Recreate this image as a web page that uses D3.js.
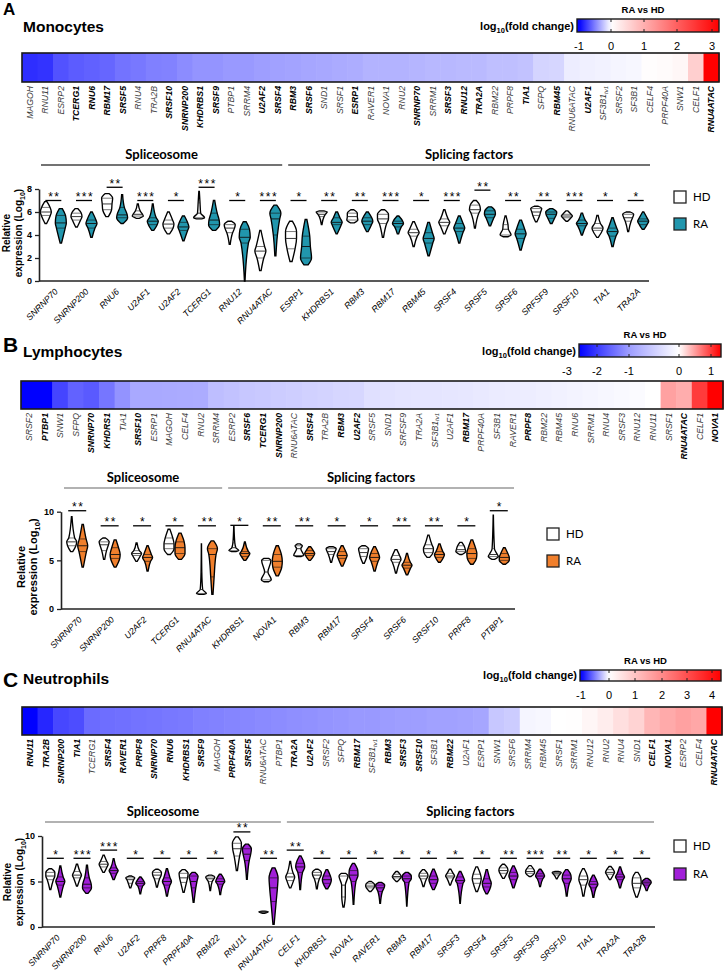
<!DOCTYPE html>
<html><head><meta charset="utf-8">
<script src="https://cdn.jsdelivr.net/npm/d3@7"></script>
<style>body{margin:0;background:#fff} svg{display:block}</style>
</head><body><svg id="c" width="728" height="972"></svg>
<script>
// ---------------- DATA ----------------
const heatGenesA = ["MAGOH","RNU11","ESRP2","TCERG1","RNU6","RBM17","SRSF5","RNU4","TRA2B","SRSF10","SNRNP200","KHDRBS1","SRSF9","PTBP1","SRRM4","U2AF2","SRSF4","RBM3","SRSF6","SND1","SRSF1","ESRP1","RAVER1","NOVA1","RNU2","SNRNP70","SRRM1","SRSF3","RNU12","TRA2A","RBM22","PRPF8","TIA1","SFPQ","RBM45","RNU6ATAC","U2AF1","SF3B1_tv1","SRSF2","SF3B1","CELF4","PRPF40A","SNW1","CELF1","RNU4ATAC"];
const heatValsA = [-0.82,-0.8,-0.68,-0.64,-0.62,-0.6,-0.55,-0.53,-0.5,-0.49,-0.45,-0.42,-0.42,-0.4,-0.4,-0.38,-0.37,-0.36,-0.35,-0.34,-0.33,-0.32,-0.3,-0.3,-0.3,-0.29,-0.28,-0.28,-0.27,-0.27,-0.25,-0.25,-0.24,-0.17,-0.16,-0.07,-0.06,-0.05,-0.04,-0.03,0.02,0.05,0.1,0.6,3.2];
const heatBoldA = ["TCERG1","RNU6","RBM17","SRSF5","SRSF10","SNRNP200","KHDRBS1","SRSF9","U2AF2","SRSF4","RBM3","SRSF6","ESRP1","SNRNP70","SRSF3","RNU12","TRA2A","TIA1","RBM45","U2AF1","RNU4ATAC"];
const cbTicksA = [-1,0,1,2,3];

const heatGenesB = ["SRSF2","PTBP1","SNW1","SFPQ","SNRNP70","KHDRS1","TIA1","SRSF10","ESRP1","MAGOH","CELF4","RNU2","SRRM4","ESRP2","SRSF6","TCERG1","SNRNP200","RNU6ATAC","SRSF4","TRA2B","RBM3","U2AF2","SRSF5","SND1","SRFSF9","TRA2A","SF3B1_tv1","U2AF1","RBM17","PRPF40A","SF3B1","RAVER1","PRPF8","RBM22","RBM45","RNU6","SRRM1","RNU4","SRSF3","RNU12","RNU11","SRSF1","RNU4ATAC","CELF1","NOVA1"];
const heatValsB = [-2.6,-2.6,-1.9,-1.6,-1.68,-1.4,-1.1,-0.88,-0.88,-0.87,-0.86,-0.85,-0.66,-0.62,-0.57,-0.55,-0.52,-0.5,-0.47,-0.45,-0.42,-0.41,-0.32,-0.3,-0.28,-0.27,-0.26,-0.25,-0.24,-0.22,-0.2,-0.19,-0.18,-0.16,-0.14,-0.12,-0.1,-0.08,-0.06,-0.04,0.0,0.48,0.42,1.0,1.3];
const heatBoldB = ["PTBP1","SNRNP70","KHDRS1","SRSF10","SRSF6","TCERG1","SNRNP200","SRSF4","RBM3","U2AF2","RBM17","PRPF8","RNU4ATAC","NOVA1"];
const cbTicksB = [-3,-2,-1,0,1];

const heatGenesC = ["RNU11","TRA2B","SNRNP200","TIA1","TCERG1","SRSF4","RAVER1","PRPF8","SNRNP70","RNU6","KHDRBS1","SRSF9","MAGOH","PRPF40A","SRSF5","RNU6ATAC","PTBP1","TRA2A","U2AF2","SRSF2","SFPQ","RBM17","SF3B1_tv1","RBM3","SRSF3","SRSF10","SF3B1","RBM22","U2AF1","ESRP1","SNW1","SRSF6","SRRM4","RBM45","SRSF1","SRRM1","RNU12","RNU2","RNU4","SND1","CELF1","NOVA1","ESRP2","CELF4","RNU4ATAC"];
const heatValsC = [-1.0,-0.85,-0.72,-0.7,-0.58,-0.57,-0.56,-0.55,-0.54,-0.53,-0.52,-0.5,-0.49,-0.48,-0.47,-0.46,-0.45,-0.44,-0.43,-0.42,-0.41,-0.4,-0.4,-0.39,-0.38,-0.38,-0.37,-0.37,-0.36,-0.35,-0.22,-0.2,-0.04,-0.03,0.0,0.02,0.15,0.3,0.55,0.75,1.25,1.45,1.6,1.5,4.35];
const heatBoldC = ["RNU11","TRA2B","SNRNP200","TIA1","SRSF4","RAVER1","PRPF8","SNRNP70","RNU6","KHDRBS1","SRSF9","PRPF40A","SRSF5","TRA2A","U2AF2","RBM17","RBM3","SRSF3","SRSF10","RBM22","CELF1","NOVA1","RNU4ATAC"];
const cbTicksC = [-1,0,1,2,3,4];

// violin summaries: [min, q1, median, q3, max] (log10 relative expression)
const genesA = ["SNRNP70","SNRNP200","RNU6","U2AF1","U2AF2","TCERG1","RNU12","RNU4ATAC","ESRP1","KHDRBS1","RBM3","RBM17","RBM45","SRSF4","SRSF5","SRSF6","SRFSF9","SRSF10","TIA1","TRA2A"];
const hdA = [[5.0,5.7,6.0,6.4,6.9],[4.7,5.3,5.6,5.9,6.3],[5.6,6.2,6.7,7.2,7.6],[5.45,5.65,5.8,6.1,6.7],[4.1,4.6,4.95,5.3,6.0],[5.4,5.5,5.9,6.8,7.8],[3.2,4.2,4.6,4.9,5.2],[0.9,2.0,2.6,3.0,4.4],[1.7,2.8,3.7,4.3,5.2],[4.9,5.6,5.8,6.0,6.1],[5.05,5.3,5.6,5.9,6.2],[3.8,5.0,5.4,5.8,6.2],[3.0,3.9,4.2,4.5,5.15],[4.1,4.8,5.1,5.4,6.2],[4.6,5.9,6.2,6.6,7.0],[3.85,4.0,4.5,4.9,5.65],[5.15,5.7,6.0,6.3,6.5],[5.2,5.5,5.65,5.8,6.1],[3.8,4.4,4.6,5.0,5.7],[4.3,5.2,5.5,5.8,6.0]];
const raA = [[3.3,4.6,5.05,5.7,6.3],[3.8,4.6,5.0,5.3,6.0],[5.0,5.5,5.75,6.4,7.5],[4.4,4.9,5.2,5.5,6.7],[3.5,4.4,4.7,5.1,5.65],[4.4,4.9,5.3,5.9,7.0],[0,3.3,3.8,4.5,5.15],[2.2,4.0,5.4,5.9,6.6],[1.4,2.0,3.0,3.9,5.35],[4.1,4.9,5.1,5.5,6.0],[4.3,4.9,5.2,5.5,6.0],[4.1,4.7,5.0,5.2,5.65],[2.2,3.3,3.7,4.2,5.1],[3.3,4.3,4.6,5.0,5.65],[4.8,5.5,5.8,6.1,6.45],[2.7,3.7,4.1,4.5,5.3],[5.0,5.45,5.8,6.0,6.3],[4.0,4.8,5.0,5.3,5.9],[3.0,3.9,4.3,4.6,5.5],[4.5,4.9,5.2,5.4,6.0]];
const starsA = ["**","***","**","***","*","***","*","***","*","**","**","***","*","***","**","**","**","***","*","*"];
const sigA = [7,7,8.15,7,7,8.15,7,7,7,7,7,7,7,7,7.9,7,7,7,7,7];
const ticksA = [0,2,4,6,8];

const genesB = ["SNRNP70","SNRNP200","U2AF2","TCERG1","RNU4ATAC","KHDRBS1","NOVA1","RBM3","RBM17","SRSF4","SRSF6","SRSF10","PRPF8","PTBP1"];
const hdB = [[5.9,6.5,6.9,7.3,9.5],[5.1,6.0,6.6,6.9,7.3],[4.9,5.5,5.7,6.0,6.8],[5.6,6.2,6.7,7.3,8.2],[1.5,1.6,2.0,3.8,6.7],[5.9,6.0,6.3,6.8,8.5],[2.8,3.0,3.8,5.0,5.2],[5.4,5.5,6.2,6.5,6.7],[4.8,5.6,5.9,6.2,6.4],[4.7,5.4,5.8,6.2,6.5],[3.7,4.8,5.1,5.5,6.1],[5.3,5.8,6.2,6.6,7.6],[5.6,5.9,6.1,6.5,6.85],[5.1,5.4,5.6,6.2,9.65]];
const raB = [[4.3,5.9,6.5,7.2,8.7],[4.3,5.2,5.6,6.3,7.1],[3.9,4.9,5.3,5.6,6.5],[5.1,5.7,6.3,6.9,7.8],[1.5,3.3,5.6,6.2,7.0],[5.0,5.4,5.7,5.9,6.9],[3.4,4.3,4.9,5.6,6.5],[5.0,5.5,5.7,6.0,6.4],[4.4,5.2,5.5,5.9,6.5],[3.9,4.9,5.3,5.7,6.4],[3.5,4.2,4.5,4.8,5.7],[4.8,5.3,5.6,5.9,6.7],[4.6,5.2,5.7,6.2,7.1],[4.6,5.0,5.3,5.7,6.3]];
const starsB = ["**","**","*","*","**","*","**","**","*","*","**","**","*","*"];
const sigB = [10.1,8.55,8.55,8.55,8.55,8.6,8.55,8.55,8.55,8.55,8.55,8.55,8.55,10.1];
const ticksB = [0,5,10];

const genesC = ["SNRNP70","SNRNP200","RNU6","U2AF2","PRPF8","PRPF40A","RBM22","RNU11","RNU4ATAC","CELF1","KHDRBS1","NOVA1","RAVER1","RBM3","RBM17","SRSF3","SRSF4","SRSF5","SRFSF9","SRSF10","TIA1","TRA2A","TRA2B"];
const hdC = [[4.1,5.2,5.6,6.0,6.4],[4.5,5.4,5.7,6.1,6.9],[6.0,6.6,6.9,7.2,7.9],[4.3,4.8,5.2,5.4,5.6],[4.4,5.3,5.7,6.0,6.35],[3.8,4.9,5.4,5.9,6.3],[4.0,5.0,5.3,5.5,5.7],[6.2,7.8,8.6,9.2,9.9],[1.5,1.6,1.65,1.7,1.75],[4.3,5.1,5.5,5.9,7.2],[4.2,5.3,5.7,6.0,6.35],[2.2,3.3,4.6,5.6,5.9],[3.9,4.3,4.5,4.75,5.0],[5.0,5.4,5.55,5.8,6.1],[4.45,5.3,5.6,5.9,6.3],[4.6,5.4,5.6,5.9,6.35],[3.9,4.8,5.3,5.8,6.6],[5.35,5.9,6.2,6.5,6.9],[5.55,5.9,6.1,6.4,6.75],[5.3,5.7,5.85,6.0,6.1],[3.4,4.6,5.2,5.6,6.4],[5.2,5.8,6.0,6.3,6.65],[3.3,4.3,4.8,5.4,6.0]];
const raC = [[3.3,4.6,5.0,5.5,6.7],[3.7,4.3,4.7,5.4,6.8],[5.2,5.9,6.2,6.5,7.5],[3.65,4.5,4.8,5.0,5.5],[3.4,4.6,5.0,5.4,6.4],[2.7,4.3,5.0,5.6,6.0],[3.55,4.7,5.0,5.3,5.8],[5.25,7.3,8.0,8.6,9.1],[0.3,2.8,4.3,5.4,6.5],[4.1,6.0,6.6,7.0,7.8],[4.2,4.8,5.2,5.6,6.3],[2.5,5.0,5.7,6.2,7.0],[2.6,3.9,4.3,4.6,4.9],[2.3,4.9,5.3,5.6,6.0],[4.1,4.8,5.2,5.6,6.35],[2.6,4.8,5.1,5.5,6.1],[3.65,4.4,4.8,5.3,6.3],[4.3,5.2,5.6,6.0,6.7],[4.45,5.3,5.6,5.85,6.35],[3.4,4.8,5.3,5.7,6.3],[3.25,4.3,4.7,5.0,5.7],[4.3,5.2,5.5,5.8,6.6],[4.0,4.6,4.85,5.05,5.35]];
const starsC = ["*","***","***","*","*","*","*","**","**","**","*","*","*","*","*","*","*","**","***","**","*","*","*"];
const sigC = [7.55,7.55,8.45,7.55,7.55,7.55,7.55,10.45,7.55,8.45,7.55,7.55,7.55,7.55,7.55,7.55,7.55,7.55,7.55,7.55,7.55,7.55,7.55];
const ticksC = [0,5,10];

const groupLabels = ["Spliceosome","Splicing factors"];
const nSpliceoA = 8, nSpliceoB = 5, nSpliceoC = 9;
const legendLabels = ["HD","RA"];

// ---------------- DRAWING ----------------
const FONT = '"Liberation Sans", Arial, sans-serif';
const CAL = 'Lato, "Open Sans", sans-serif';
const svg = d3.select('#c').attr('font-family', FONT);

function subLabel(sel, name) {
  const parts = name.split('_');
  sel.append('tspan').text(parts[0]);
  if (parts[1]) sel.append('tspan').attr('font-size', '0.68em').attr('dy', '0.3em').text(parts[1]);
}

function drawTitle(letter, title, ly, lsize, ty) {
  svg.append('text').attr('x', 3).attr('y', ly).attr('font-size', lsize).attr('font-weight', 'bold').text(letter);
  svg.append('text').attr('x', 23).attr('y', ty).attr('font-size', 15.5).attr('font-weight', 'bold').text(title);
}

function drawHeat(c) {
  const g = svg.append('g');
  const x = d3.scaleBand().domain(c.genes).range([c.x0, c.x1]);
  const color = d3.scaleLinear().domain(c.cdom).range(['#0000ff', '#ffffff', '#ff0000']).clamp(true);
  g.selectAll('rect.cell').data(c.genes).join('rect').attr('class', 'cell')
    .attr('x', d => x(d)).attr('y', c.y0).attr('width', x.bandwidth() + 0.6).attr('height', c.y1 - c.y0)
    .attr('fill', (d, i) => color(c.vals[i]));
  g.append('rect').attr('x', c.x0).attr('y', c.y0).attr('width', c.x1 - c.x0).attr('height', c.y1 - c.y0)
    .attr('fill', 'none').attr('stroke', '#1a1a1a').attr('stroke-width', 1.6);
  g.selectAll('text.gl').data(c.genes).join('text').attr('class', 'gl')
    .attr('transform', d => `translate(${x(d) + x.bandwidth() / 2 + 3.2},${c.y1 + 4}) rotate(-90)`)
    .attr('text-anchor', 'end').attr('font-size', 8.7).attr('font-style', 'italic')
    .attr('font-weight', d => c.bold.includes(d) ? 'bold' : 'normal')
    .attr('fill', d => c.bold.includes(d) ? '#000' : '#3a3a3a')
    .each(function (d) { subLabel(d3.select(this), d); });
  // colour bar
  const cb = d3.scaleLinear().domain(c.cbTicks).range(c.cbTickX);
  const id = 'grad' + c.id;
  const grad = svg.append('defs').append('linearGradient').attr('id', id);
  d3.range(41).forEach(i => {
    const px = c.cbx0 + i / 40 * (c.cbx1 - c.cbx0);
    grad.append('stop').attr('offset', (i / 40 * 100) + '%').attr('stop-color', color(cb.invert(px)));
  });
  g.append('rect').attr('x', c.cbx0).attr('y', c.cby0).attr('width', c.cbx1 - c.cbx0).attr('height', c.cby1 - c.cby0)
    .attr('fill', `url(#${id})`).attr('stroke', '#1a1a1a').attr('stroke-width', 1.4);
  c.cbTicks.forEach(t => {
    const px = cb(t);
    if (px > c.cbx0 + 2 && px < c.cbx1 - 2) {
      g.append('line').attr('x1', px).attr('x2', px).attr('y1', c.cby0).attr('y2', c.cby0 + 3).attr('stroke', '#222').attr('stroke-width', 1);
      g.append('line').attr('x1', px).attr('x2', px).attr('y1', c.cby1 - 3).attr('y2', c.cby1).attr('stroke', '#222').attr('stroke-width', 1);
    }
  });
  g.selectAll('text.cbt').data(c.cbTicks).join('text').attr('class', 'cbt')
    .attr('x', d => cb(d)).attr('y', c.cby1 + 18).attr('text-anchor', 'middle').attr('font-size', 11)
    .text(d => d < 0 ? '-' + Math.abs(d) : d);
  g.append('text').attr('x', (c.cbx0 + c.cbx1) / 2 - 5).attr('y', c.cby0 - 6).attr('text-anchor', 'middle')
    .attr('font-size', 9.5).attr('font-weight', 'bold').text('RA vs HD');
  const lt = g.append('text').attr('x', c.cbx0 - 3).attr('y', c.cby1 - 2).attr('text-anchor', 'end')
    .attr('font-size', 11).attr('font-weight', 'bold');
  lt.append('tspan').text('log');
  lt.append('tspan').attr('font-size', 7.5).attr('dy', 3).text('10');
  lt.append('tspan').attr('dy', -3).text('(fold change)');
}

function violinShape(s, y, cx, hw) {
  const seg = [s[1] - s[0], s[2] - s[1], s[3] - s[2], s[4] - s[3]].map(v => Math.max(v, 0.06));
  const d = seg.map(v => 0.25 / v);
  const w = [d[0] * 0.3, (d[0] + d[1]) / 2, (d[1] + d[2]) / 2, (d[2] + d[3]) / 2, d[3] * 0.3];
  const m = d3.max(w);
  const pts = s.map((v, i) => ({ v, w: w[i] / m * hw }));
  const area = d3.area().y(p => y(p.v)).x0(p => cx - p.w).x1(p => cx + p.w).curve(d3.curveMonotoneY);
  return { path: area(pts), pts };
}

function drawViolins(c) {
  const g = svg.append('g');
  const x = d3.scaleBand().domain(c.genes).range([c.xr0, c.xr1]);
  const y = d3.scaleLinear().domain([0, c.ticks[c.ticks.length - 1]]).range([c.yb, c.yt]);
  // y axis
  const ga = g.append('g').attr('transform', `translate(${c.ax},0)`)
    .call(d3.axisLeft(y).tickValues(c.ticks).tickSize(4).tickSizeOuter(0).tickFormat(d3.format('d')));
  ga.select('.domain').attr('stroke-width', 1.6).attr('stroke', '#222');
  ga.selectAll('.tick line').attr('stroke-width', 1.3).attr('stroke', '#222');
  ga.selectAll('text').attr('font-size', 9).attr('font-weight', 'bold').attr('font-family', FONT).attr('fill', '#000');
  // x axis
  const gx = g.append('g').attr('transform', `translate(0,${c.yb})`)
    .call(d3.axisBottom(x).tickSize(0).tickSizeOuter(0));
  gx.select('.domain').attr('stroke-width', 1.6).attr('stroke', '#222')
    .attr('d', `M${c.ax},0H${c.xEnd}`);
  gx.selectAll('text').attr('font-size', 8.8).attr('font-style', 'italic').attr('font-family', FONT).attr('fill', '#000')
    .attr('text-anchor', 'end').attr('y', 0).attr('dy', '0.35em')
    .attr('transform', 'translate(3,9) rotate(-45)');
  // violins
  c.genes.forEach((gene, i) => {
    const cx = x(gene) + x.bandwidth() / 2;
    [[c.hd[i], -c.off, '#ffffff', '#222'], [c.ra[i], c.off, c.color, '#111']].forEach(([s, o, fill, lc]) => {
      const v = violinShape(s, y, cx + o, c.hw);
      g.append('path').attr('d', v.path).attr('fill', fill).attr('stroke', '#000').attr('stroke-width', 1.35);
      [1, 2, 3].forEach(k => {
        const p = v.pts[k];
        g.append('line').attr('x1', cx + o - p.w).attr('x2', cx + o + p.w).attr('y1', y(p.v)).attr('y2', y(p.v))
          .attr('stroke', lc).attr('stroke-width', k === 2 ? 0.9 : 0.6);
      });
    });
    const by = y(c.sig[i]);
    g.append('line').attr('x1', cx - c.bh).attr('x2', cx + c.bh).attr('y1', by).attr('y2', by)
      .attr('stroke', '#000').attr('stroke-width', 1.3);
    g.append('text').attr('x', cx + 1).attr('y', by + 0.5).attr('text-anchor', 'middle').attr('fill', '#000')
      .attr('font-size', 12).attr('letter-spacing', 1.5).text(c.stars[i]);
  });
  // group headers
  const split = x(c.genes[c.nSplice]);
  [[c.xr0 + 3, split - 1, groupLabels[0]], [split + 5, c.xr1 - 1, groupLabels[1]]].forEach(([a, b, t]) => {
    g.append('line').attr('x1', a).attr('x2', b).attr('y1', c.hy).attr('y2', c.hy).attr('stroke', c.hcol).attr('stroke-width', 1.5);
    g.append('text').attr('x', (a + b) / 2).attr('y', c.hy - 6).attr('text-anchor', 'middle')
      .attr('font-family', CAL).attr('font-weight', 'bold').attr('font-size', 13).text(t);
  });
  // y label
  const yl = c.ylab;
  g.append('text').attr('transform', `translate(${yl[0]},${yl[2]}) rotate(-90)`).attr('text-anchor', 'middle')
    .attr('font-size', yl[3]).attr('font-weight', 'bold').text('Relative');
  const t2 = g.append('text').attr('transform', `translate(${yl[1]},${yl[2]}) rotate(-90)`).attr('text-anchor', 'middle')
    .attr('font-size', yl[3]).attr('font-weight', 'bold');
  t2.append('tspan').text('expression (Log');
  t2.append('tspan').attr('font-size', yl[3] * 0.7).attr('dy', 3).text('10');
  t2.append('tspan').attr('dy', -3).text(')');
  // legend
  legendLabels.forEach((lab, k) => {
    const ly = c.leg[1] + k * c.leg[2];
    g.append('rect').attr('x', c.leg[0]).attr('y', ly).attr('width', 12).attr('height', 12)
      .attr('fill', k ? c.color : '#fff').attr('stroke', '#222').attr('stroke-width', 1.3);
    g.append('text').attr('x', c.leg[0] + 19).attr('y', ly + 9.5).attr('font-family', CAL).attr('font-size', 11.5).text(lab);
  });
}

// ---- Panel A ----
drawTitle('A', 'Monocytes', 15, 17, 32);
drawHeat({ id: 'A', genes: heatGenesA, vals: heatValsA, bold: heatBoldA, x0: 22, x1: 719, y0: 53, y1: 82,
  cdom: [-1, 0, 3.2], cbTicks: cbTicksA, cbTickX: [579, 611, 644, 677, 712], cbx0: 577, cbx1: 719, cby0: 19, cby1: 32 });
drawViolins({ genes: genesA, hd: hdA, ra: raA, stars: starsA, sig: sigA, ticks: ticksA, nSplice: nSpliceoA,
  xr0: 38, xr1: 651, xEnd: 649, ax: 39, yb: 281, yt: 189, off: 7.5, hw: 5.5, bh: 8, color: '#2196ad', hcol: '#444',
  hy: 165, ylab: [10, 22, 233, 10], leg: [674, 191, 27] });

// ---- Panel B ----
drawTitle('B', 'Lymphocytes', 352, 21, 357);
drawHeat({ id: 'B', genes: heatGenesB, vals: heatValsB, bold: heatBoldB, x0: 21, x1: 723, y0: 381, y1: 409,
  cdom: [-2.6, 0, 1.3], cbTicks: cbTicksB, cbTickX: [567, 597, 629, 679, 711], cbx0: 579, cbx1: 721, cby0: 344, cby1: 357 });
drawViolins({ genes: genesB, hd: hdB, ra: raB, stars: starsB, sig: sigB, ticks: ticksB, nSplice: nSpliceoB,
  xr0: 61, xr1: 515, xEnd: 515, ax: 61, yb: 609, yt: 511.7, off: 5.5, hw: 5, bh: 9, color: '#f07f2c', hcol: '#999',
  hy: 488, ylab: [25, 37, 567, 11], leg: [547, 528, 27] });

// ---- Panel C ----
drawTitle('C', 'Neutrophils', 687, 21, 684);
drawHeat({ id: 'C', genes: heatGenesC, vals: heatValsC, bold: heatBoldC, x0: 22, x1: 722, y0: 707, y1: 735,
  cdom: [-1, 0, 4.35], cbTicks: cbTicksC, cbTickX: [581, 609, 635, 662, 687, 712], cbx0: 580, cbx1: 721, cby0: 670, cby1: 681 });
drawViolins({ genes: genesC, hd: hdC, ra: raC, stars: starsC, sig: sigC, ticks: ticksC, nSplice: nSpliceoC,
  xr0: 42, xr1: 655, xEnd: 655, ax: 42, yb: 927, yt: 836, off: 5, hw: 4.5, bh: 8.5, color: '#a11fd8', hcol: '#999',
  hy: 822, ylab: [11, 23, 882, 10], leg: [674, 840, 28] });
</script></body></html>
